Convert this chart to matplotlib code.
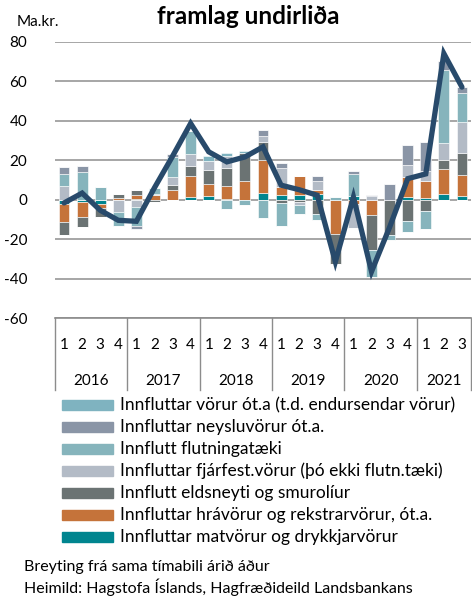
import matplotlib
matplotlib.use("Agg")
import matplotlib.pyplot as plt
import matplotlib.transforms as mtransforms
from matplotlib.patches import Rectangle
import numpy as np

plt.rcParams['font.family'] = ['Lato', 'DejaVu Sans']

years = ["2016", "2017", "2018", "2019", "2020", "2021"]
quarters_per_year = [4, 4, 4, 4, 4, 3]
quarter_labels = ["1", "2", "3", "4"] * 5 + ["1", "2", "3"]

series_names = [
    "Innfluttar matvörur og drykkjarvörur",
    "Innfluttar hrávörur og rekstrarvörur, ót.a.",
    "Innflutt eldsneyti og smurolíur",
    "Innfluttar fjárfest.vörur (þó ekki flutn.tæki)",
    "Innflutt flutningatæki",
    "Innfluttar neysluvörur ót.a.",
    "Innfluttar vörur ót.a (t.d. endursendar vörur)",
]
series_colors = ["#00858F", "#C5733A", "#6B7373", "#B3BBC6", "#86B4BC", "#8A95A6", "#7FB3C0"]

matvorur = [-2, -1, -2, 0, 0.5, 0, 0, 1.4, 1.8, 0.5, 0, 3.5, 2.5, 2.5, 3, 0, 1.8, 0, 0, 1.5, 1, 3, 1.7]
hravorur = [-9.5, -8, -2.5, 1, 2, 2.2, 4.8, 10.6, 5.9, 6.5, 9.5, 16.4, 4.1, 9.2, 1.8, -17.3, -2, -8, 0, 10, 8.2, 12.7, 11]
eldsneyti = [-6.3, -4.7, -4.5, 2, 2.3, -1.2, 2.8, 5, 7.1, 8.8, 14.2, 9.3, -1.9, -1.2, -7.1, -15.3, 0, -17.4, -18.1, -11, -5.9, 4.3, 10.7]
fjarfest = [6.7, 0, 0, -6.5, -4, 0.8, 3.9, 6.3, 4.7, 6.2, 0, 3, 9.2, -1.5, 4.6, 0, -12.2, 1.7, 0, 5.9, 5.4, 8.8, 16.1]
flutningataeki = [6.5, 14, 6.5, -7, -9.3, 3, 10.1, 11.7, 0, -4.7, -2.5, -9.3, -11.7, -4.7, -3, 1.2, 11.3, -13.6, -2.5, -5.4, -8.8, 36.9, 14.3]
neysluvorur = [3.3, 3, 0, 0, -1.5, 0, 1.7, 0, 0, 0, 0, 3, 2.8, 0, 2.5, 0, 1.2, 0.5, 7.8, 10.1, 14.4, 4.3, 3.4]
vorur_ota = [0, 0, 0, 0, 0, 0, 0, 0, 2.4, 1.7, 0.8, 0, 0, 0, 0, 0, 0, 0, 0, 0, 0, 0, 0]
samtals = [-1.7, 3.3, -5.4, -10.5, -11, 6, 22, 38.6, 24.2, 19.1, 21.6, 26.7, 7.3, 5, 2.2, -31.5, 1.3, -36.5, -14, 10.6, 13, 74, 57]

series_values = [matvorur, hravorur, eldsneyti, fjarfest, flutningataeki, neysluvorur, vorur_ota]

W, H = 472, 597
fig = plt.figure(figsize=(W / 100, H / 100), dpi=100)
ax_left, ax_right, ax_top, ax_bottom = 55, 471, 41.7, 318
ax = fig.add_axes([ax_left / W, 1 - ax_bottom / H, (ax_right - ax_left) / W, (ax_bottom - ax_top) / H])

n = len(samtals)
x = np.arange(n)
pos_base = np.zeros(n)
neg_base = np.zeros(n)
for vals, color, name in zip(series_values, series_colors, series_names):
    v = np.array(vals, dtype=float)
    pos = np.where(v > 0, v, 0)
    neg = np.where(v < 0, v, 0)
    ax.bar(x, pos, bottom=pos_base, width=0.6, color=color, edgecolor="white", linewidth=0.4, zorder=2, label=name)
    ax.bar(x, neg, bottom=neg_base, width=0.6, color=color, edgecolor="white", linewidth=0.4, zorder=2)
    pos_base += pos
    neg_base += neg

ax.plot(x, samtals, color="#284A6B", linewidth=3.8, solid_joinstyle="miter", solid_capstyle="round", zorder=3)

ax.set_xlim(-0.5, n - 0.5)
ax.set_ylim(-60, 80)
ax.set_yticks(np.arange(-60, 81, 20))
ax.set_yticklabels([str(t) for t in range(-60, 81, 20)], fontsize=11)
ax.tick_params(axis="y", length=0, pad=20)
ax.set_xticks([])
ax.grid(axis="y", color="#A6A6A6", linewidth=1.4, zorder=0)
ax.set_axisbelow(True)
for s in ax.spines.values():
    s.set_visible(False)

# category axis box
trans = mtransforms.blended_transform_factory(ax.transData, ax.transAxes)
box_h = -(390 - ax_bottom) / (ax_bottom - ax_top)
qy = -(345 - ax_bottom) / (ax_bottom - ax_top)
yy = -(381 - ax_bottom) / (ax_bottom - ax_top)
ax.plot([-0.5, n - 0.5], [0, 0], transform=trans, color="#8C8C8C", linewidth=1.2, clip_on=False, zorder=4)
start = 0
bounds = [-0.5]
for yr, cnt in zip(years, quarters_per_year):
    ax.text(start + (cnt - 1) / 2, yy, yr, transform=trans, ha="center", va="center", fontsize=11)
    start += cnt
    bounds.append(start - 0.5)
for b in bounds:
    ax.plot([b, b], [0, box_h], transform=trans, color="#8C8C8C", linewidth=1.0, clip_on=False)
for i, ql in enumerate(quarter_labels):
    ax.text(i, qy, ql, transform=trans, ha="center", va="center", fontsize=11)

fig.text(248 / W, 1 - 17 / H, "framlag undirliða", ha="center", va="center", fontsize=17.5, fontweight="bold")
fig.text(17 / W, 1 - 22 / H, "Ma.kr.", ha="left", va="center", fontsize=11)

# legend (top entry = last series)
leg_y0 = 405
leg_dy = 22
for k, idx in enumerate(range(len(series_names) - 1, -1, -1)):
    yc = leg_y0 + k * leg_dy
    fig.patches.append(Rectangle((62 / W, 1 - (yc + 5) / H), 51 / W, 10 / H,
                                 transform=fig.transFigure, color=series_colors[idx]))
    fig.text(120 / W, 1 - yc / H, series_names[idx], ha="left", va="center", fontsize=12.5)

fig.text(24 / W, 1 - 567 / H, "Breyting frá sama tímabili árið áður", ha="left", va="center", fontsize=11.5)
fig.text(24 / W, 1 - 587 / H, "Heimild: Hagstofa Íslands, Hagfræðideild Landsbankans", ha="left", va="center", fontsize=11.5)

fig.savefig("out.png", dpi=100)
